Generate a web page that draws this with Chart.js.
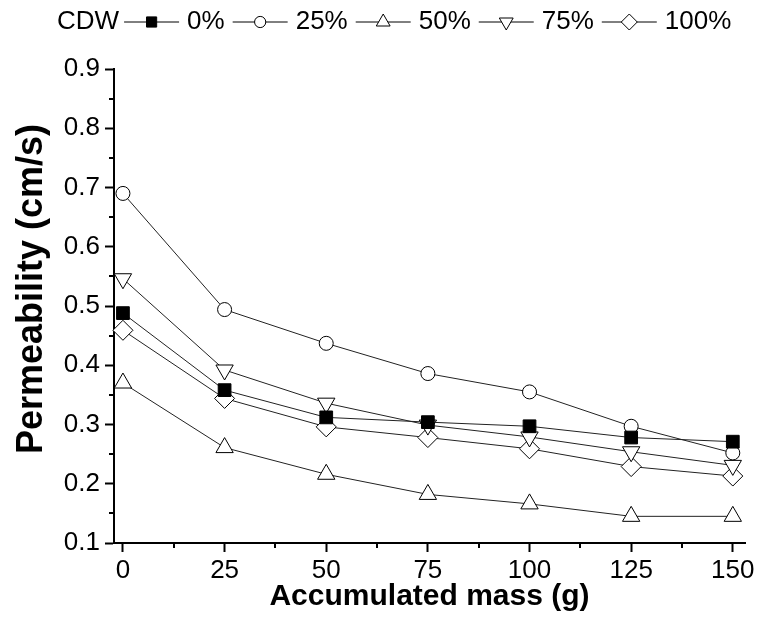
<!DOCTYPE html>
<html>
<head>
<meta charset="utf-8">
<script src="https://cdn.jsdelivr.net/npm/chart.js@4.4.0/dist/chart.umd.min.js"></script>
<style>
  body { margin: 0; background: #fff; }
</style>
</head>
<body>
<canvas id="myChart" width="761" height="628"></canvas>
<script>
// accumulated mass (g) and permeability (cm/s) for each CDW content
var mass = [0, 25, 50, 75, 100, 125, 150];
var cdw0 = [0.488, 0.358, 0.312, 0.304, 0.297, 0.278, 0.271];
var cdw25 = [0.690, 0.494, 0.437, 0.386, 0.355, 0.297, 0.252];
var cdw50 = [0.370, 0.261, 0.216, 0.182, 0.166, 0.145, 0.145];
var cdw75 = [0.546, 0.392, 0.336, 0.299, 0.279, 0.254, 0.231];
var cdw100 = [0.459, 0.344, 0.296, 0.278, 0.259, 0.229, 0.213];
var seriesNames = ['0%', '25%', '50%', '75%', '100%'];
var xTicks = [0, 25, 50, 75, 100, 125, 150];
var yTicks = [0.1, 0.2, 0.3, 0.4, 0.5, 0.6, 0.7, 0.8, 0.9];

var font = "'Liberation Sans', Arial, sans-serif";

var markers = [
    { pointStyle: 'rect', radius: 9, rotation: 0, fill: '#000' },
    { pointStyle: 'circle', radius: 7, rotation: 0, fill: '#fff' },
    { pointStyle: 'triangle', radius: 10, rotation: 0, fill: '#fff' },
    { pointStyle: 'triangle', radius: 10, rotation: 180, fill: '#fff' },
    { pointStyle: 'rectRot', radius: 10, rotation: 0, fill: '#fff' }
];

function pts(vals) {
    return mass.map(function (m, i) { return { x: m, y: vals[i] }; });
}

var datasets = [cdw0, cdw25, cdw50, cdw75, cdw100].map(function (vals, i) {
    var m = markers[i];
    return {
        label: seriesNames[i],
        data: pts(vals),
        borderColor: '#222',
        borderWidth: 1,
        pointStyle: m.pointStyle,
        pointRadius: m.radius,
        pointRotation: m.rotation,
        pointBackgroundColor: m.fill,
        pointBorderColor: '#000',
        pointBorderWidth: 1,
        tension: 0,
        clip: false
    };
});

// legend row, y title and minor ticks
var extras = {
    id: 'extras',
    afterDraw: function (chart) {
        var ctx = chart.ctx;
        var xs = chart.scales.x, ys = chart.scales.y;
        ctx.save();

        // minor ticks
        ctx.strokeStyle = '#000';
        ctx.lineWidth = 2;
        ctx.beginPath();
        for (var i = 0; i < xTicks.length - 1; i++) {
            var px = Math.round(xs.getPixelForValue((xTicks[i] + xTicks[i + 1]) / 2));
            ctx.moveTo(px, ys.bottom);
            ctx.lineTo(px, ys.bottom + 5);
        }
        for (var j = 0; j < yTicks.length - 1; j++) {
            var py = Math.round(ys.getPixelForValue((yTicks[j] + yTicks[j + 1]) / 2));
            ctx.moveTo(xs.left, py);
            ctx.lineTo(xs.left - 5, py);
        }
        ctx.stroke();

        // y axis title
        ctx.save();
        ctx.translate(32, 289);
        ctx.rotate(-Math.PI / 2);
        ctx.font = 'bold 36px ' + font;
        ctx.fillStyle = '#000';
        ctx.textAlign = 'center';
        ctx.textBaseline = 'middle';
        ctx.fillText('Permeability (cm/s)', 0, 0);
        ctx.restore();

        // legend
        ctx.font = '26px ' + font;
        ctx.textBaseline = 'middle';
        ctx.textAlign = 'left';
        ctx.fillStyle = '#000';
        var x = 57, y = 22;
        ctx.fillText('CDW', x, y);
        x += ctx.measureText('CDW').width + 5;
        seriesNames.forEach(function (name, k) {
            var m = markers[k];
            ctx.strokeStyle = '#000';
            ctx.lineWidth = 1;
            ctx.beginPath();
            ctx.moveTo(x, y);
            ctx.lineTo(x + 55, y);
            ctx.stroke();
            ctx.fillStyle = m.fill;
            Chart.helpers.drawPoint(ctx, {
                pointStyle: m.pointStyle,
                radius: m.radius * 0.8,
                rotation: m.rotation,
                borderWidth: 1
            }, x + 27.5, y);
            x += 55 + 8;
            ctx.fillStyle = '#000';
            ctx.fillText(name, x, y);
            x += ctx.measureText(name).width + 8;
        });
        ctx.restore();
    }
};

new Chart(document.getElementById('myChart'), {
    type: 'line',
    data: { datasets: datasets },
    options: {
        responsive: false,
        animation: false,
        layout: { padding: { top: 69, right: 16, left: 0, bottom: 0 } },
        plugins: {
            legend: { display: false },
            tooltip: { enabled: false }
        },
        scales: {
            x: {
                type: 'linear',
                min: -2.2,
                max: 153,
                border: { color: '#000', width: 2 },
                grid: { drawOnChartArea: false, tickLength: 9, color: '#000', tickWidth: 2 },
                ticks: {
                    color: '#000',
                    font: { size: 26, family: font },
                    padding: 3,
                    maxRotation: 0,
                    autoSkip: false
                },
                title: {
                    display: true,
                    text: 'Accumulated mass (g)',
                    color: '#000',
                    font: { size: 30, weight: 'bold', family: font },
                    padding: { top: 0, bottom: 13 }
                },
                afterBuildTicks: function (s) {
                    s.ticks = xTicks.map(function (v) { return { value: v }; });
                },
                afterFit: function (s) { s.height = 85; }
            },
            y: {
                type: 'linear',
                min: 0.1,
                max: 0.9,
                border: { color: '#000', width: 2 },
                grid: { drawOnChartArea: false, tickLength: 9, color: '#000', tickWidth: 2 },
                ticks: {
                    color: '#000',
                    font: { size: 26, family: font },
                    padding: 5,
                    callback: function (v) { return v.toFixed(1); }
                },
                afterBuildTicks: function (s) {
                    s.ticks = yTicks.map(function (v) { return { value: v }; });
                },
                afterFit: function (s) { s.width = 114; }
            }
        }
    },
    plugins: [extras]
});
</script>
</body>
</html>
